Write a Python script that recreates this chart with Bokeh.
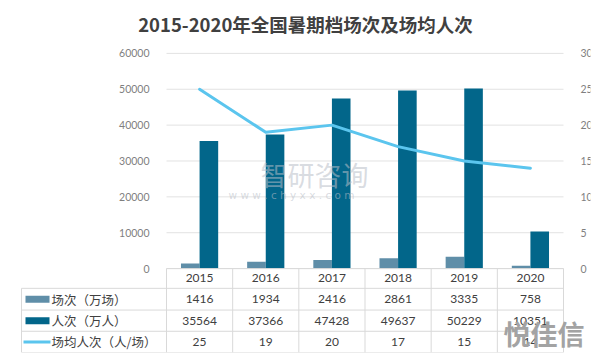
import numpy as np
from bokeh.plotting import figure
from bokeh.models import Range1d, LinearAxis, FixedTicker
from bokeh.core.properties import value
from bokeh.embed import file_html
from bokeh.resources import INLINE

# ---------------- data ----------------
years = ["2015", "2016", "2017", "2018", "2019", "2020"]
screenings = [1416, 1934, 2416, 2861, 3335, 758]            # 场次（万场）
admissions = [35564, 37366, 47428, 49637, 50229, 10351]     # 人次（万人）
avg_per_show = [25, 19, 20, 17, 15, 14]                     # 场均人次（人/场）
left_ticks = [0, 10000, 20000, 30000, 40000, 50000, 60000]
right_ticks = [0, 5, 10, 15, 20, 25, 30]
series_names = ["场次（万场）", "人次（万人）", "场均人次（人/场）"]
title_text = "2015-2020年全国暑期档场次及场均人次"

# ---------------- layout (pixels) ----------------
W, H = 594, 358
FRAME_L, FRAME_R = 20, 590
FRAME_T = 40
PLOT_OFF = 146      # frame left -> plot area left
PLOT_W = 397
PLOT_H = 218
TOP_PAD = 9
ROWS_PX = [0, 20, 42, 63.5, 85]
TABLE_H = ROWS_PX[-1]
frame_w = FRAME_R - FRAME_L
frame_h = TOP_PAD + PLOT_H + TABLE_H
PX0 = FRAME_L + PLOT_OFF   # page x of plot-area left
PY0 = FRAME_T + TOP_PAD + PLOT_H  # page y of baseline

C1, C2, C3 = "#5f8ea8", "#02668a", "#5bc5ee"
GRID = "#e2e2e2"
TAB = "#d9d9d9"
TXT = "#404040"
CJK = "Noto Sans CJK SC"
NUM = "Lato"

n = len(years)
ymax = left_ticks[-1]
rmax = right_ticks[-1]
xu = n / PLOT_W
yu = ymax / PLOT_H
ru = rmax / PLOT_H

x_start = -PLOT_OFF * xu
x_end = (frame_w - PLOT_OFF) * xu
y_start = -TABLE_H * yu
y_end = ymax + TOP_PAD * yu

def px(xpage):
    return (xpage - PX0) * xu

def py(ypage):
    return (PY0 - ypage) * yu

p = figure(width=W, height=H, output_backend="svg", toolbar_location=None,
           x_range=Range1d(x_start, x_end), y_range=Range1d(y_start, y_end),
           x_axis_location=None, y_axis_location="left",
           min_border_left=FRAME_L, min_border_right=W - FRAME_R,
           min_border_top=FRAME_T, min_border_bottom=H - FRAME_T - frame_h,
           background_fill_color="white", border_fill_color="white")
p.outline_line_color = None
p.xgrid.visible = False
p.ygrid.visible = False
p.extra_y_ranges = {"right": Range1d(-TABLE_H * ru, rmax + TOP_PAD * ru)}

# title
p.title.text = title_text
p.title.text_font = CJK
p.title.text_font_size = "18.5px"
p.title.text_font_style = "bold"
p.title.text_color = TXT
p.title.align = "center"
p.title.offset = 0
p.title.standoff = 16

# axes
la = p.yaxis[0]
la.fixed_location = 0
la.ticker = FixedTicker(ticks=left_ticks)
ra = LinearAxis(y_range_name="right", fixed_location=n, ticker=FixedTicker(ticks=right_ticks))
p.add_layout(ra, "right")
for ax in (la, ra):
    ax.axis_line_color = None
    ax.major_tick_line_color = None
    ax.minor_tick_line_color = None
    ax.major_label_standoff = 11
    ax.major_label_text_font = NUM
    ax.major_label_text_font_size = "10.5px"
    ax.major_label_text_color = "#7f7f7f"

# gridlines
p.segment(x0=[0] * len(left_ticks), x1=[n] * len(left_ticks), y0=left_ticks, y1=left_ticks,
          line_color=GRID, line_width=1)

# bars and line
centers = np.arange(n) + 0.5
bw = 18.6 * xu
p.vbar(x=centers - bw / 2, top=screenings, width=bw, bottom=0, fill_color=C1, line_color=None)
p.vbar(x=centers + bw / 2, top=admissions, width=bw, bottom=0, fill_color=C2, line_color=None)
p.line(centers, avg_per_show, y_range_name="right", line_color=C3, line_width=3,
       line_join="round", line_cap="round")

# watermark (center)
p.text(x=[px(260)], y=[py(172)], text=["智研咨询"],
       text_font=value(CJK), text_font_size="27px", text_color="#b8bec8", text_alpha=0.55,
       text_align="left", text_baseline="middle")
p.text(x=[px(228)], y=[py(192)], text=["w w w . c h y x x . c o m"],
       text_font=value("DejaVu Sans"), text_font_size="10.5px", text_color="#b8bec8", text_alpha=0.55,
       text_align="left", text_baseline="middle")

# ---------------- data table ----------------
x_tab = px(21)
row_y = [-r * yu for r in ROWS_PX]
p.segment(x0=[0], x1=[n], y0=[0], y1=[0], line_color=TAB, line_width=1)
p.segment(x0=[x_tab] * 4, x1=[n] * 4, y0=row_y[1:], y1=row_y[1:], line_color=TAB, line_width=1)
p.segment(x0=[x_tab], x1=[x_tab], y0=[row_y[1]], y1=[row_y[-1]], line_color=TAB, line_width=1)
vx = list(range(n + 1))
p.segment(x0=vx, x1=vx, y0=[0] * len(vx), y1=[row_y[-1]] * len(vx), line_color=TAB, line_width=1)

mid = [(row_y[k] + row_y[k + 1]) / 2 for k in range(4)]
p.text(x=centers, y=[mid[0]] * n, text=years, text_font=value(NUM), text_font_size="12px",
       text_color=TXT, text_align="center", text_baseline="middle")
for k, vals in enumerate([screenings, admissions, avg_per_show]):
    p.text(x=centers, y=[mid[k + 1]] * n, text=[str(v) for v in vals], text_font=value(NUM),
           text_font_size="12px", text_color=TXT, text_align="center", text_baseline="middle")

p.text(x=[px(51)] * 3, y=mid[1:], text=series_names, text_font=value(CJK), text_font_size="12.5px",
       text_color=TXT, text_align="left", text_baseline="middle")
p.rect(x=[px(37), px(37)], y=mid[1:3], width=24, height=7, width_units="screen", height_units="screen",
       fill_color=[C1, C2], line_color=None)
p.segment(x0=[px(23)], x1=[px(50)], y0=[mid[3]], y1=[mid[3]], line_color=C3, line_width=3)

# corner watermark
p.text(x=[px(503)], y=[py(333)], text=["悦佳信"], text_font=value(CJK),
       text_font_size="27px", text_font_style="bold", text_color="#a3a3a3",
       text_align="left", text_baseline="middle")

open("out.html", "w").write(file_html(p, INLINE))
